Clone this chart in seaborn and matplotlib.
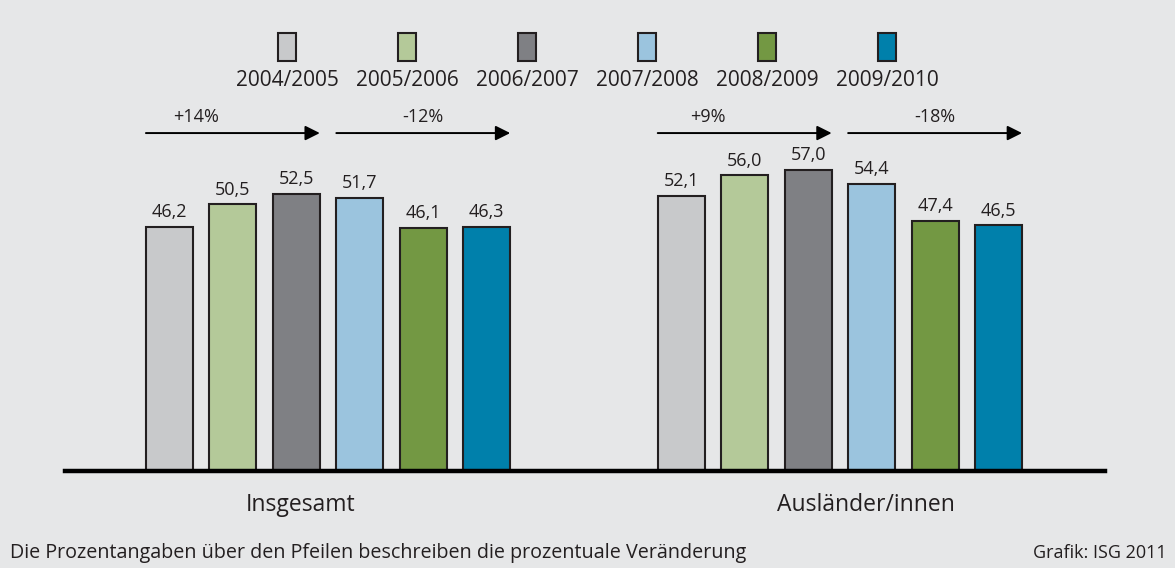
import matplotlib
matplotlib.use("Agg")
import matplotlib.pyplot as plt
from matplotlib.patches import Rectangle
import pandas as pd
import seaborn as sns

# Daten
gruppen = ["Insgesamt", "Ausländer/innen"]
jahre = ["2004/2005", "2005/2006", "2006/2007", "2007/2008", "2008/2009", "2009/2010"]
werte_insgesamt = [46.2, 50.5, 52.5, 51.7, 46.1, 46.3]
werte_auslaender = [52.1, 56.0, 57.0, 54.4, 47.4, 46.5]
veraenderung_insgesamt = ["+14%", "-12%"]
veraenderung_auslaender = ["+9%", "-18%"]
farben = ["#c8c9cb", "#b4c999", "#7f8084", "#9bc4de", "#739843", "#0080ab"]

HINTERGRUND = "#e6e7e8"
RAND = "#231f20"

df = pd.DataFrame({
    "Gruppe": [gruppen[0]] * len(jahre) + [gruppen[1]] * len(jahre),
    "Jahr": jahre + jahre,
    "Wert": werte_insgesamt + werte_auslaender,
})

sns.set_style("white")
plt.rcParams["font.family"] = ["Open Sans", "DejaVu Sans"]

fig = plt.figure(figsize=(11.75, 5.68), dpi=100, facecolor=HINTERGRUND)
ax = fig.add_axes([65 / 1175, 97 / 568, 1040 / 1175, 471 / 568])
ax.set_facecolor(HINTERGRUND)

sns.barplot(
    data=df, x="Gruppe", y="Wert", hue="Jahr", hue_order=jahre,
    palette=farben, saturation=1, width=0.744, gap=0.26, errorbar=None,
    edgecolor=RAND, linewidth=1.5, legend=False, ax=ax,
)

ax.set_xlim(-0.514, 1.518)
ax.set_ylim(0, 89.2)
for seite in ["top", "right", "left"]:
    ax.spines[seite].set_visible(False)
ax.spines["bottom"].set_linewidth(3.2)
ax.spines["bottom"].set_color("black")
ax.set_yticks([])
ax.set_xlabel("")
ax.set_ylabel("")
ax.set_xticks([-0.053, 1.051], gruppen)
ax.tick_params(axis="x", length=0, pad=16, labelsize=16.5, colors="#231f20")

# Werte ueber den Balken
for cont in ax.containers:
    ax.bar_label(cont, labels=[f"{b.get_height():.1f}".replace(".", ",") for b in cont],
                 padding=4, fontsize=13, color="#231f20")

# Pfeile mit prozentualer Veraenderung
pfeil_y = 64.0
text_y = 67.0
text_anteil = [0.29, 0.5]
for g, labels in enumerate([veraenderung_insgesamt, veraenderung_auslaender]):
    for k, (a, b) in enumerate([(0, 2), (3, 5)]):
        x0 = ax.containers[a][g].get_x()
        x1 = ax.containers[b][g].get_x() + ax.containers[b][g].get_width()
        ax.annotate("", xy=(x1, pfeil_y), xytext=(x0, pfeil_y),
                    arrowprops=dict(arrowstyle="-|>", color="black", lw=1.4,
                                    mutation_scale=22, shrinkA=0, shrinkB=0))
        ax.text(x0 + (x1 - x0) * text_anteil[k], text_y, labels[k],
                ha="center", va="center", fontsize=13, color="#231f20")

# Legende: Kaestchen ueber dem Jahr
for i, (jahr, farbe) in enumerate(zip(jahre, farben)):
    cx = (287 + i * 120) / 1175
    fig.patches.append(Rectangle((cx - 9 / 1175, 507 / 568), 18 / 1175, 28 / 568,
                                 transform=fig.transFigure, facecolor=farbe,
                                 edgecolor=RAND, linewidth=1.5))
    fig.text(cx, 487 / 568, jahr, ha="center", va="center", fontsize=15, color="#231f20")

fig.text(10 / 1175, 15 / 568,
         "Die Prozentangaben über den Pfeilen beschreiben die prozentuale Veränderung",
         ha="left", va="center", fontsize=14.2, color="#231f20")
fig.text(1167 / 1175, 15 / 568, "Grafik: ISG 2011", ha="right", va="center",
         fontsize=13, color="#231f20")

fig.savefig("out.png", dpi=100, facecolor=HINTERGRUND)
